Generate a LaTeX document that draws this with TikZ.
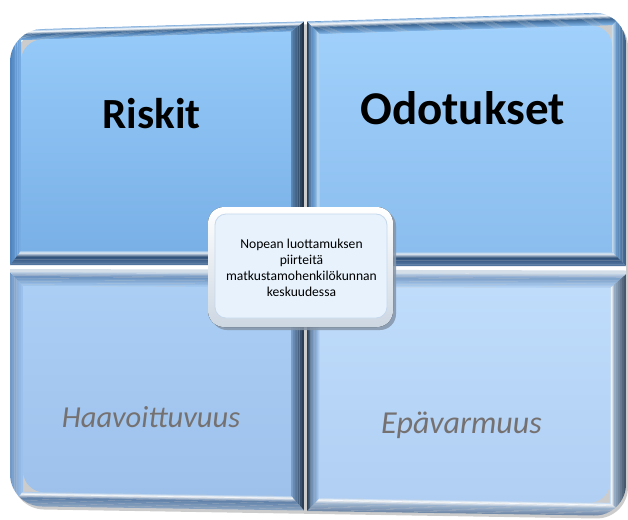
\documentclass[tikz,border=0pt]{standalone}
\usepackage{fontspec}
\setmainfont{Carlito}
\usetikzlibrary{calc}

% panel faces
\definecolor{q1top}{HTML}{95CAF9}\definecolor{q1bot}{HTML}{79B0E6}
\definecolor{q2top}{HTML}{A0D0FB}\definecolor{q2bot}{HTML}{8BBDEE}
\definecolor{q3top}{HTML}{AACEF4}\definecolor{q3bot}{HTML}{9DC1EB}
\definecolor{q4top}{HTML}{BFDCFB}\definecolor{q4bot}{HTML}{B0CFF3}
% bevel colours, upper row
\definecolor{rimout}{HTML}{5C95D0}\definecolor{rimdark}{HTML}{3B6592}
\definecolor{q1topin}{HTML}{74A9DE}\definecolor{q2topin}{HTML}{7FB3E6}
\definecolor{q1lfout}{HTML}{4C80BA}\definecolor{q1lfin}{HTML}{7AB0E6}
\definecolor{q1rtout}{HTML}{1D2D40}\definecolor{q1rtin}{HTML}{5E8AB9}
\definecolor{btout}{HTML}{5679A4}\definecolor{btdark}{HTML}{2F5079}
\definecolor{btlight}{HTML}{E8F2FC}\definecolor{q1btin}{HTML}{92C0EE}
\definecolor{q2btin}{HTML}{8EBEEF}
\definecolor{q2lfout}{HTML}{22344A}\definecolor{q2lfmid}{HTML}{5B8BC0}
\definecolor{q2lfin}{HTML}{8EBFEE}\definecolor{q2lflt}{HTML}{B6DAF9}
\definecolor{q2lfface}{HTML}{9ACBF7}
\definecolor{q2rtout}{HTML}{3A5D84}\definecolor{q2rtmid}{HTML}{6B9ACB}
\definecolor{q2rtlt}{HTML}{D6EAFB}
% bevel colours, lower row
\definecolor{lotpout}{HTML}{C9D8E8}
\definecolor{q3tpmid}{HTML}{6A90BD}\definecolor{q3tpin}{HTML}{A2C8F0}
\definecolor{q3lfout}{HTML}{6F96C3}\definecolor{q3lfin}{HTML}{9EC4EE}
\definecolor{q3rtout}{HTML}{22354B}\definecolor{q3rtin}{HTML}{7FA5D0}
\definecolor{q3btout}{HTML}{8CA5C2}\definecolor{q3btmid}{HTML}{5F80A8}
\definecolor{q3btin}{HTML}{A3C6EC}
\definecolor{q4tpmid}{HTML}{7C9FC9}\definecolor{q4tpin}{HTML}{B3D3F5}
\definecolor{q4lfout}{HTML}{26384C}\definecolor{q4lfmid}{HTML}{6F95C2}
\definecolor{q4lfin}{HTML}{B7D6F7}
\definecolor{q4rtout}{HTML}{3D4E63}\definecolor{q4rtmid}{HTML}{9CB3CC}
\definecolor{q4rtin}{HTML}{BCD8F6}
\definecolor{q4btout}{HTML}{6F88A6}\definecolor{q4btmid}{HTML}{9FB6D0}
\definecolor{q4btin}{HTML}{B9D6F5}
% seam between the two rows
\definecolor{seam}{HTML}{D3DEE9}
% centre box and text
\definecolor{boxshadow}{HTML}{8595A8}\definecolor{boxrim}{HTML}{CDD7E2}
\definecolor{boxface}{HTML}{E7F2FC}\definecolor{boxedge}{HTML}{C5D8EC}
\definecolor{softgrey}{HTML}{767171}

% quadrilateral A-B-C-D with its corner at A rounded (#5 radius, #6 control offset)
\newcommand\panelshape[7]{%
  \path[#7] ($(#1)!#5!(#4)$) .. controls ($(#1)!#6!(#4)$) and ($(#1)!#6!(#2)$)
    .. ($(#1)!#5!(#2)$) -- (#2) -- (#3) -- (#4) -- cycle;}

% one bevel facet between outer edge #1-#2 and inner edge #4-#3,
% graded from colour #5 to #6 over the part t = #7 ... #8
\newcommand\bevelband[8]{%
  \foreach \k in {0,...,5}{%
    \pgfmathsetmacro\ta{#7+(#8-#7)*\k/6}%
    \pgfmathsetmacro\tb{#7+(#8-#7)*(\k+1)/6+0.01}%
    \pgfmathtruncatemacro\pc{100-(\k+0.5)*100/6}%
    \fill[fill=#5!\pc!#6] ($(#1)!\ta!(#4)$) -- ($(#2)!\ta!(#3)$)
      -- ($(#2)!\tb!(#3)$) -- ($(#1)!\tb!(#4)$) -- cycle;
  }}

\begin{document}
\begin{tikzpicture}[x=1pt,y=-1pt,
  heading/.style={font=\fontsize{43}{50}\selectfont\bfseries, anchor=base, inner sep=0pt},
  subheading/.style={font=\fontsize{30.5}{36}\selectfont\itshape, text=softgrey,
    anchor=base, inner sep=0pt},
  coretext/.style={font=\fontsize{13.6}{15.8}\selectfont, align=center, inner sep=0pt}]
\useasboundingbox (0,0) rectangle (628,519);

% ---- corner points -------------------------------------------------
\coordinate (q1tl) at (10,30);   \coordinate (q1tr) at (304,21.5);
\coordinate (q1br) at (304,265); \coordinate (q1bl) at (10,265);
\coordinate (q1itl) at (21,40);  \coordinate (q1itr) at (291,31.5);
\coordinate (q1ibr) at (291,251);\coordinate (q1ibl) at (21,251);

\coordinate (q2tl) at (307,21.5);\coordinate (q2tr) at (626,12);
\coordinate (q2br) at (626,266); \coordinate (q2bl) at (307,266);
\coordinate (q2itl) at (320,34); \coordinate (q2itr) at (612,25);
\coordinate (q2ibr) at (612,252);\coordinate (q2ibl) at (320,252);

\coordinate (q3tl) at (10,272);  \coordinate (q3tr) at (304,273);
\coordinate (q3br) at (304,510.5);\coordinate (q3bl) at (10,506);
\coordinate (q3itl) at (23,286); \coordinate (q3itr) at (291,287);
\coordinate (q3ibr) at (291,496);\coordinate (q3ibl) at (23,492);

\coordinate (q4tl) at (307,273); \coordinate (q4tr) at (626,274);
\coordinate (q4br) at (626,516); \coordinate (q4bl) at (307,511);
\coordinate (q4itl) at (320,287);\coordinate (q4itr) at (610,288);
\coordinate (q4ibr) at (610,503);\coordinate (q4ibl) at (320,498);

% ---- soft shadow under the whole matrix ----------------------------
\fill[black, opacity=0.2, rounded corners=32pt]
  (12,33) -- (628,15) -- (628,519) -- (12,509) -- cycle;
% light seam between the upper and lower rows
\fill[white] (10,264) rectangle (626,274);
\fill[seam] (10,269) -- (626,270.5) -- (626,274) -- (10,273) -- cycle;

% ---- upper left panel ----------------------------------------------
\begin{scope}
  \panelshape{q1tl}{q1tr}{q1br}{q1bl}{32pt}{14.3pt}{clip}
  \bevelband{q1tl}{q1bl}{q1ibl}{q1itl}{q1lfout}{q1lfin}{0}{1}
  \bevelband{q1tr}{q1br}{q1ibr}{q1itr}{q1rtout}{q1rtin}{0}{1}
  \bevelband{q1tl}{q1tr}{q1itr}{q1itl}{rimout}{white}{0}{0.25}
  \bevelband{q1tl}{q1tr}{q1itr}{q1itl}{white}{rimdark}{0.25}{0.5}
  \bevelband{q1tl}{q1tr}{q1itr}{q1itl}{rimdark}{q1topin}{0.5}{1}
  \bevelband{q1bl}{q1br}{q1ibr}{q1ibl}{btout}{btdark}{0}{0.6}
  \bevelband{q1bl}{q1br}{q1ibr}{q1ibl}{btdark}{btlight}{0.6}{0.85}
  \bevelband{q1bl}{q1br}{q1ibr}{q1ibl}{btlight}{q1btin}{0.85}{1}
\end{scope}
\panelshape{q1itl}{q1itr}{q1ibr}{q1ibl}{21pt}{9.4pt}{shade, top color=q1top, bottom color=q1bot}

% ---- upper right panel ---------------------------------------------
\begin{scope}
  \panelshape{q2tr}{q2br}{q2bl}{q2tl}{32pt}{14.3pt}{clip}
  \bevelband{q2tl}{q2bl}{q2ibl}{q2itl}{q2lfout}{q2lfmid}{0}{0.4}
  \bevelband{q2tl}{q2bl}{q2ibl}{q2itl}{q2lfmid}{q2lfin}{0.4}{0.8}
  \bevelband{q2tl}{q2bl}{q2ibl}{q2itl}{q2lflt}{q2lfface}{0.8}{1}
  \bevelband{q2tr}{q2br}{q2ibr}{q2itr}{q2rtout}{q2rtmid}{0}{0.7}
  \bevelband{q2tr}{q2br}{q2ibr}{q2itr}{q2rtmid}{q2rtlt}{0.7}{1}
  \bevelband{q2tl}{q2tr}{q2itr}{q2itl}{rimout}{white}{0}{0.25}
  \bevelband{q2tl}{q2tr}{q2itr}{q2itl}{white}{rimdark}{0.25}{0.5}
  \bevelband{q2tl}{q2tr}{q2itr}{q2itl}{rimdark}{q2topin}{0.5}{1}
  \bevelband{q2bl}{q2br}{q2ibr}{q2ibl}{btout}{btdark}{0}{0.6}
  \bevelband{q2bl}{q2br}{q2ibr}{q2ibl}{btdark}{btlight}{0.6}{0.85}
  \bevelband{q2bl}{q2br}{q2ibr}{q2ibl}{btlight}{q2btin}{0.85}{1}
\end{scope}
\panelshape{q2itr}{q2ibr}{q2ibl}{q2itl}{21pt}{9.4pt}{shade, top color=q2top, bottom color=q2bot}

% ---- lower left panel ----------------------------------------------
\begin{scope}
  \panelshape{q3bl}{q3tl}{q3tr}{q3br}{32pt}{14.3pt}{clip}
  \bevelband{q3tl}{q3bl}{q3ibl}{q3itl}{q3lfout}{q3lfin}{0}{1}
  \bevelband{q3tr}{q3br}{q3ibr}{q3itr}{q3rtout}{q3rtin}{0}{1}
  \bevelband{q3tl}{q3tr}{q3itr}{q3itl}{lotpout}{q3tpmid}{0}{0.35}
  \bevelband{q3tl}{q3tr}{q3itr}{q3itl}{q3tpmid}{q3tpin}{0.35}{1}
  \bevelband{q3bl}{q3br}{q3ibr}{q3ibl}{q3btout}{q3btmid}{0}{0.6}
  \bevelband{q3bl}{q3br}{q3ibr}{q3ibl}{q3btmid}{white}{0.6}{0.85}
  \bevelband{q3bl}{q3br}{q3ibr}{q3ibl}{white}{q3btin}{0.85}{1}
\end{scope}
\panelshape{q3ibl}{q3itl}{q3itr}{q3ibr}{21pt}{9.4pt}{shade, top color=q3top, bottom color=q3bot}

% ---- lower right panel ---------------------------------------------
\begin{scope}
  \panelshape{q4br}{q4bl}{q4tl}{q4tr}{32pt}{14.3pt}{clip}
  \bevelband{q4tl}{q4bl}{q4ibl}{q4itl}{q4lfout}{q4lfmid}{0}{0.5}
  \bevelband{q4tl}{q4bl}{q4ibl}{q4itl}{q4lfmid}{q4lfin}{0.5}{1}
  \bevelband{q4tr}{q4br}{q4ibr}{q4itr}{q4rtout}{q4rtmid}{0}{0.75}
  \bevelband{q4tr}{q4br}{q4ibr}{q4itr}{q4rtmid}{white}{0.75}{0.9}
  \bevelband{q4tr}{q4br}{q4ibr}{q4itr}{white}{q4rtin}{0.9}{1}
  \bevelband{q4tl}{q4tr}{q4itr}{q4itl}{lotpout}{q4tpmid}{0}{0.35}
  \bevelband{q4tl}{q4tr}{q4itr}{q4itl}{q4tpmid}{q4tpin}{0.35}{1}
  \bevelband{q4bl}{q4br}{q4ibr}{q4ibl}{q4btout}{q4btmid}{0}{0.6}
  \bevelband{q4bl}{q4br}{q4ibr}{q4ibl}{q4btmid}{white}{0.6}{0.85}
  \bevelband{q4bl}{q4br}{q4ibr}{q4ibl}{white}{q4btin}{0.85}{1}
\end{scope}
\panelshape{q4ibr}{q4ibl}{q4itl}{q4itr}{21pt}{9.4pt}{shade, top color=q4top, bottom color=q4bot}

% ---- panel titles --------------------------------------------------
\node[heading] (riskit) at (151.5,128) {Riskit};
\node[heading, font=\fontsize{47}{54}\selectfont\bfseries] (odotukset) at (462.5,124) {Odotukset};
\node[subheading] (haavoittuvuus) at (151,427) {Haavoittuvuus};
\node[subheading, font=\fontsize{32}{38}\selectfont\itshape] (epavarmuus) at (461.5,433) {Epävarmuus};

% ---- centre box ----------------------------------------------------
\fill[boxshadow, opacity=0.85, rounded corners=16pt] (211,210) rectangle (396,330);
\fill[rounded corners=16pt, shade, top color=white, bottom color=boxrim] (208,207) rectangle (393,327);
\fill[boxface, rounded corners=11pt] (215,214) rectangle (387,318);
\draw[boxedge, line width=0.8pt, rounded corners=11pt] (215,214) rectangle (387,318);
\node[coretext] (core) at (301.5,268)
  {Nopean luottamuksen\\piirteitä\\matkustamohenkilökunnan\\keskuudessa};
\end{tikzpicture}
\end{document}
